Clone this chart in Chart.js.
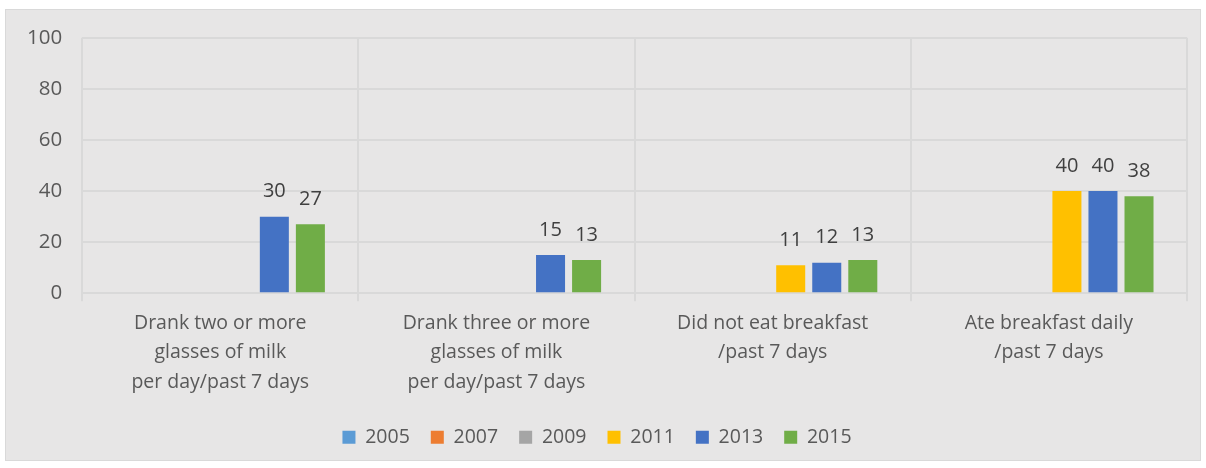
<!DOCTYPE html>
<html>
<head>
<meta charset="utf-8">
<script src="https://cdn.jsdelivr.net/npm/chart.js@4/dist/chart.umd.min.js"></script>
<style>
  body { margin: 0; background: #ffffff; }
  #wrap {
    position: absolute; left: 5px; top: 9px;
    width: 1194px; height: 450px;
    background: #e7e6e6; border: 1px solid #d9d9d9;
  }
</style>
</head>
<body>
<div id="wrap"><canvas id="chart"></canvas></div>
<script>
// categories and yearly values (null = no data for that year)
const categories = [
  ["Drank two or more", "glasses of milk", "per day/past 7 days"],
  ["Drank three or more", "glasses of milk", "per day/past 7 days"],
  ["Did not eat breakfast", "/past 7 days"],
  ["Ate breakfast daily", "/past 7 days"]
];
const years = ["2005", "2007", "2009", "2011", "2013", "2015"];
const v2005 = [null, null, null, null];
const v2007 = [null, null, null, null];
const v2009 = [null, null, null, null];
const v2011 = [null, null, 11, 40];
const v2013 = [30, 15, 12, 40];
const v2015 = [27, 13, 13, 38];
const yTicks = [0, 20, 40, 60, 80, 100];

const colors = ["#5b9bd5", "#ed7d31", "#a5a5a5", "#ffc000", "#4472c4", "#70ad47"];
const series = [v2005, v2007, v2009, v2011, v2013, v2015];
const FONT = "'Open Sans', 'Liberation Sans', sans-serif";

// draws the value above each bar, like excel's outside end labels
const valueLabels = {
  id: "valueLabels",
  afterDatasetsDraw(chart) {
    const ctx = chart.ctx;
    ctx.save();
    ctx.font = "20px " + FONT;
    ctx.fillStyle = "#404040";
    ctx.textAlign = "center";
    ctx.textBaseline = "middle";
    chart.data.datasets.forEach((ds, i) => {
      const meta = chart.getDatasetMeta(i);
      meta.data.forEach((bar, j) => {
        const v = ds.data[j];
        if (v == null) return;
        ctx.fillText(String(v), bar.x, bar.y - 25);
      });
    });
    ctx.restore();
  }
};

const ctx = document.getElementById("chart").getContext("2d");
new Chart(ctx, {
  type: "bar",
  data: {
    labels: categories,
    datasets: years.map((y, i) => ({
      label: y,
      data: series[i],
      backgroundColor: colors[i],
      categoryPercentage: 0.783,
      barPercentage: 0.805
    }))
  },
  options: {
    responsive: true,
    maintainAspectRatio: false,
    animation: false,
    layout: { padding: { left: 1, right: 13, top: 12, bottom: 3 } },
    plugins: {
      legend: {
        position: "bottom",
        labels: {
          boxWidth: 13,
          boxHeight: 13,
          color: "#595959",
          font: { size: 19.5, family: FONT },
          padding: 21
        }
      },
      tooltip: { enabled: false }
    },
    scales: {
      y: {
        min: 0,
        max: 100,
        afterBuildTicks: (axis) => { axis.ticks = yTicks.map(v => ({ value: v })); },
        border: { display: false },
        grid: { color: "#d9d9d9", lineWidth: 2, drawTicks: false },
        ticks: {
          color: "#595959",
          // small lineHeight keeps the top label from pushing the plot down
          font: { size: 20.5, family: FONT, lineHeight: 0.75 },
          padding: 20
        }
      },
      x: {
        border: { color: "#d9d9d9", width: 2 },
        grid: { color: "#d9d9d9", lineWidth: 2, offset: true, tickLength: 8 },
        ticks: {
          color: "#595959",
          font: { size: 19.5, family: FONT, lineHeight: 1.49 },
          padding: 8,
          maxRotation: 0
        },
        // a little extra room under the labels so the legend sits lower
        afterFit: (axis) => { axis.height += 2; }
      }
    }
  },
  plugins: [valueLabels]
});
</script>
</body>
</html>
